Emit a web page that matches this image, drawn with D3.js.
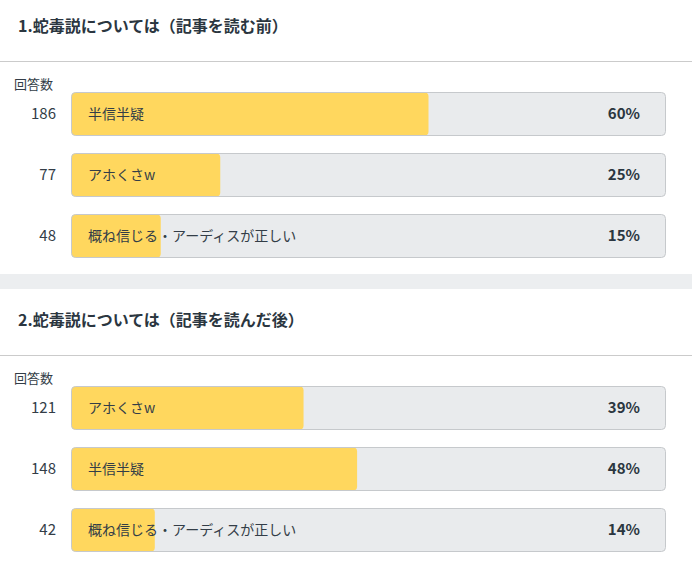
<!DOCTYPE html>
<html>
<head>
<meta charset="utf-8">
<script src="https://cdn.jsdelivr.net/npm/d3@7"></script>
<style>
  body { margin: 0; background: #fff; }
  svg { display: block; font-family: "Noto Sans CJK JP", sans-serif; }
</style>
</head>
<body>
<script>
const titles = ["1.蛇毒説については（記事を読む前）", "2.蛇毒説については（記事を読んだ後）"];

const labels1 = ["半信半疑", "アホくさw", "概ね信じる・アーディスが正しい"];
const counts1 = [186, 77, 48];
const percents1 = [60, 25, 15];

const labels2 = ["アホくさw", "半信半疑", "概ね信じる・アーディスが正しい"];
const counts2 = [121, 148, 42];
const percents2 = [39, 48, 14];

const w = 692, h = 562;

const svg = d3.select("body")
  .append("svg")
  .attr("width", w)
  .attr("height", h);

// grey band between the two polls
svg.append("rect")
  .attr("x", 0).attr("y", 274)
  .attr("width", w).attr("height", 15)
  .attr("fill", "#eceef0");

const x = d3.scaleLinear().domain([0, 100]).range([71, 666]);

const drawPoll = (top, title, labels, counts, percents) => {
  const g = svg.append("g").attr("transform", `translate(0,${top})`);

  g.append("text")
    .attr("x", 18).attr("y", 25)
    .attr("dominant-baseline", "central")
    .attr("font-size", 16)
    .attr("font-weight", "bold")
    .attr("fill", "#2b3640")
    .text(title);

  g.append("line")
    .attr("x1", 0).attr("x2", w)
    .attr("y1", 61.5).attr("y2", 61.5)
    .attr("stroke", "#cbcbcb");

  g.append("text")
    .attr("x", 14).attr("y", 83)
    .attr("dominant-baseline", "central")
    .attr("font-size", 13)
    .attr("fill", "#333d47")
    .text("回答数");

  const y = d3.scaleBand()
    .domain(d3.range(labels.length))
    .range([92, 92 + 61 * labels.length - 17])
    .paddingInner(17 / 61)
    .paddingOuter(0);

  const rows = g.selectAll("g.row")
    .data(labels.map((l, i) => ({ label: l, count: counts[i], pct: percents[i] })))
    .enter()
    .append("g")
    .attr("class", "row")
    .attr("transform", (d, i) => `translate(0,${y(i)})`);

  const bh = y.bandwidth();
  const ty = bh / 2 - 1.5;

  rows.append("rect")
    .attr("x", x(0) + 0.5).attr("y", 0.5)
    .attr("width", x(100) - x(0) - 1).attr("height", bh - 1)
    .attr("rx", 4)
    .attr("fill", "#e9ebed");

  rows.append("rect")
    .attr("x", x(0) + 0.5).attr("y", 0.5)
    .attr("width", d => x(d.pct) - x(0))
    .attr("height", bh - 1)
    .attr("rx", 4)
    .attr("fill", "#ffd75e");

  rows.append("rect")
    .attr("x", x(0) + 0.5).attr("y", 0.5)
    .attr("width", x(100) - x(0) - 1).attr("height", bh - 1)
    .attr("rx", 4)
    .attr("fill", "none")
    .attr("stroke", "#c6c9cc");

  rows.append("text")
    .attr("x", 88).attr("y", ty)
    .attr("dominant-baseline", "central")
    .attr("font-size", 14)
    .attr("fill", "#333d47")
    .text(d => d.label);

  rows.append("text")
    .attr("x", 56).attr("y", ty)
    .attr("dominant-baseline", "central")
    .attr("text-anchor", "end")
    .attr("font-size", 15)
    .attr("fill", "#333d47")
    .text(d => d.count);

  rows.append("text")
    .attr("x", 640).attr("y", ty)
    .attr("dominant-baseline", "central")
    .attr("text-anchor", "end")
    .attr("font-size", 15)
    .attr("font-weight", "bold")
    .attr("fill", "#2b3640")
    .text(d => d.pct + "%");
};

drawPoll(0, titles[0], labels1, counts1, percents1);
drawPoll(294, titles[1], labels2, counts2, percents2);
</script>
</body>
</html>
